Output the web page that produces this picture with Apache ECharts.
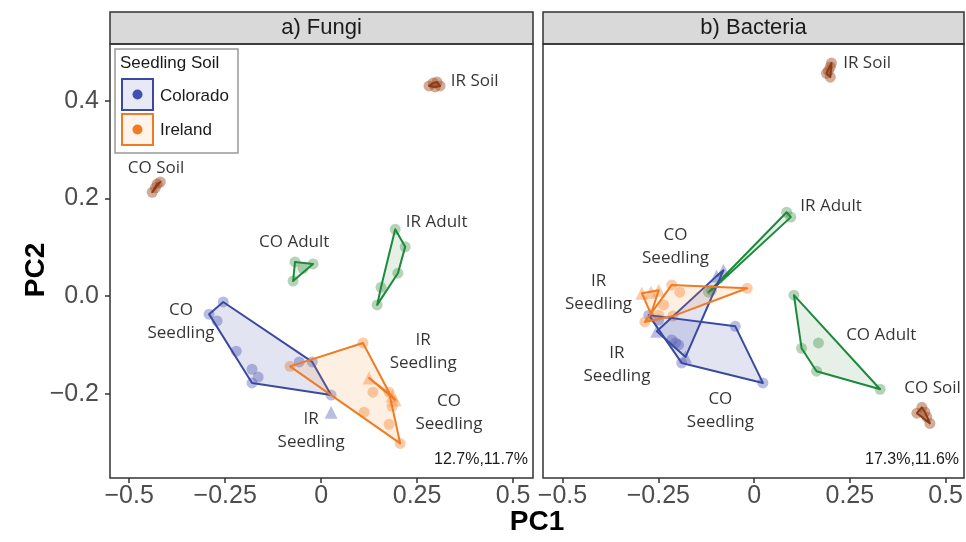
<!DOCTYPE html>
<html>
<head>
<meta charset="utf-8">
<script src="https://cdn.jsdelivr.net/npm/echarts@6/dist/echarts.min.js"></script>
<style>
  html, body { margin: 0; padding: 0; background: #fff; }
  #chart-container { width: 966px; height: 542px; }
</style>
</head>
<body>
<div id="chart-container"></div>
<script>
// ---- data: PC1 / PC2 scores ----
var xTicks = [-0.5, -0.25, 0, 0.25, 0.5];
var yTicks = [-0.2, 0, 0.2, 0.4];
var panelTitles = ['a) Fungi', 'b) Bacteria'];
var varExplained = ['12.7%,11.7%', '17.3%,11.6%'];

// fungi
var fungiCOSoil = [[-0.440, 0.213], [-0.432, 0.222], [-0.427, 0.230], [-0.419, 0.234]];
var fungiIRSoil = [[0.281, 0.431], [0.292, 0.437], [0.302, 0.439], [0.310, 0.431], [0.297, 0.429]];
var fungiCOAdult = [[-0.068, 0.070], [-0.021, 0.066], [-0.073, 0.031], [-0.047, 0.057]];
var fungiIRAdult = [[0.193, 0.137], [0.219, 0.101], [0.200, 0.047], [0.156, 0.018], [0.146, -0.018]];
var fungiCOSeedCircle = [[-0.255, -0.012], [-0.292, -0.037], [-0.271, -0.051], [-0.221, -0.113], [-0.180, -0.150],
  [-0.164, -0.166], [-0.180, -0.178], [-0.057, -0.135], [-0.023, -0.135], [0.026, -0.203]];
var fungiCOSeedTri = [[0.026, -0.238]];
var fungiIRSeedCircle = [[-0.081, -0.144], [0.109, -0.096], [0.135, -0.197], [0.177, -0.197], [0.185, -0.226],
  [0.112, -0.238], [0.177, -0.263], [0.206, -0.302]];
var fungiIRSeedTri = [[0.125, -0.168], [0.193, -0.213], [0.185, -0.205]];

// bacteria
var bactCOSoil = [[0.438, -0.228], [0.425, -0.240], [0.459, -0.261], [0.446, -0.238], [0.451, -0.248]];
var bactIRSoil = [[0.202, 0.478], [0.199, 0.470], [0.189, 0.457], [0.199, 0.449], [0.194, 0.462]];
var bactCOAdult = [[0.104, 0.002], [0.124, -0.107], [0.168, -0.096], [0.163, -0.154], [0.329, -0.191]];
var bactIRAdult = [[0.085, 0.172], [0.096, 0.162], [-0.119, 0.008], [-0.111, 0.012]];
var bactCOSeedCircle = [[-0.275, -0.039], [-0.049, -0.062], [0.023, -0.178], [-0.189, -0.137], [-0.205, -0.096],
  [-0.215, -0.090], [-0.197, -0.100], [-0.249, -0.049]];
var bactCOSeedTri = [[-0.080, 0.053], [-0.098, 0.041], [-0.254, -0.072], [-0.179, -0.125]];
var bactIRSeedCircle = [[-0.215, 0.023], [-0.018, 0.016], [-0.285, -0.053], [-0.249, -0.039], [-0.212, -0.041],
  [-0.194, 0.008], [-0.236, -0.018]];
var bactIRSeedTri = [[-0.293, 0.006], [-0.269, 0.008], [-0.249, 0.012], [-0.269, -0.037]];

// text annotations (label centre in data units)
var fungiLabels = [
  ['CO Soil', -0.430, 0.263], ['IR Soil', 0.400, 0.441], ['CO Adult', -0.070, 0.111], ['IR Adult', 0.301, 0.152],
  ['CO\nSeedling', -0.365, -0.053], ['IR\nSeedling', 0.266, -0.113], ['CO\nSeedling', 0.333, -0.240],
  ['IR\nSeedling', -0.026, -0.275]
];
var bactLabels = [
  ['IR Soil', 0.295, 0.478], ['IR Adult', 0.201, 0.185], ['CO\nSeedling', -0.205, 0.101],
  ['IR\nSeedling', -0.406, 0.008], ['IR\nSeedling', -0.358, -0.140], ['CO\nSeedling', -0.088, -0.234],
  ['CO Adult', 0.332, -0.080], ['CO Soil', 0.466, -0.189]
];

// ---- styles ----
var kinds = {
  soil:  { line: '#8c3b17', point: 'rgba(160,82,40,0.6)',  fill: 'rgba(160,82,40,0.15)' },
  adult: { line: '#1b8a3b', point: 'rgba(86,156,92,0.55)', fill: 'rgba(60,140,70,0.13)' },
  co:    { line: '#3a4aa0', point: 'rgba(98,104,190,0.55)', fill: 'rgba(60,75,165,0.15)' },
  ir:    { line: '#f07b22', point: 'rgba(245,140,60,0.55)', fill: 'rgba(245,145,65,0.15)' }
};

var panels = [
  [
    [fungiCOSoil, 'soil', 'circle'], [fungiIRSoil, 'soil', 'circle'],
    [fungiCOAdult, 'adult', 'circle'], [fungiIRAdult, 'adult', 'circle'],
    [fungiCOSeedCircle, 'co', 'circle'], [fungiCOSeedTri, 'co', 'triangle'],
    [fungiIRSeedCircle, 'ir', 'circle'], [fungiIRSeedTri, 'ir', 'triangle']
  ],
  [
    [bactCOSoil, 'soil', 'circle'], [bactIRSoil, 'soil', 'circle'],
    [bactCOAdult, 'adult', 'circle'], [bactIRAdult, 'adult', 'circle'],
    [bactCOSeedCircle, 'co', 'circle'], [bactCOSeedTri, 'co', 'triangle'],
    [bactIRSeedCircle, 'ir', 'circle'], [bactIRSeedTri, 'ir', 'triangle']
  ]
];
var panelLabels = [fungiLabels, bactLabels];

function convexHull(points) {
  var p = points.slice().sort(function (a, b) { return a[0] - b[0] || a[1] - b[1]; });
  if (p.length < 3) return p;
  function cross(o, a, b) { return (a[0] - o[0]) * (b[1] - o[1]) - (a[1] - o[1]) * (b[0] - o[0]); }
  var lower = [], upper = [];
  for (var i = 0; i < p.length; i++) {
    while (lower.length >= 2 && cross(lower[lower.length - 2], lower[lower.length - 1], p[i]) <= 0) lower.pop();
    lower.push(p[i]);
  }
  for (var j = p.length - 1; j >= 0; j--) {
    while (upper.length >= 2 && cross(upper[upper.length - 2], upper[upper.length - 1], p[j]) <= 0) upper.pop();
    upper.push(p[j]);
  }
  upper.pop(); lower.pop();
  return lower.concat(upper);
}

function fmtX(v) { return v < 0 ? '\u2212' + Math.abs(v) : String(v); }
function fmtY(v) { return (v < 0 ? '\u2212' : '') + Math.abs(v).toFixed(1); }

var grids = [
  { left: 110, top: 44, width: 423, height: 434 },
  { left: 543, top: 44, width: 421, height: 434 }
];
var xRanges = [[-0.55, 0.552], [-0.551, 0.540]];
var yRange = [-0.373, 0.517];

var tickFont = { color: '#4d4d4d', fontSize: 25, fontFamily: 'Liberation Sans' };

var xAxes = [], yAxes = [], series = [];
grids.forEach(function (g, gi) {
  xAxes.push({
    type: 'value', gridIndex: gi, min: xRanges[gi][0], max: xRanges[gi][1],
    splitLine: { show: false }, axisLine: { show: false, onZero: false },
    axisTick: { show: true, length: 5, customValues: xTicks, lineStyle: { color: '#333', width: 1.5 } },
    axisLabel: Object.assign({ show: true, margin: 6, customValues: xTicks, formatter: fmtX }, tickFont)
  });
  yAxes.push({
    type: 'value', gridIndex: gi, min: yRange[0], max: yRange[1],
    splitLine: { show: false }, axisLine: { show: false, onZero: false },
    axisTick: { show: gi === 0, length: 5, customValues: yTicks, lineStyle: { color: '#333', width: 1.5 } },
    axisLabel: Object.assign({ show: gi === 0, margin: 11, customValues: yTicks, formatter: fmtY }, tickFont)
  });

  panels[gi].forEach(function (grp) {
    var pts = grp[0], st = kinds[grp[1]];
    series.push({
      type: 'scatter', xAxisIndex: gi, yAxisIndex: gi, silent: true, z: 2,
      symbol: grp[2], symbolSize: grp[2] === 'triangle' ? 13 : 11,
      itemStyle: { color: st.point },
      data: pts
    });
    var hull = convexHull(pts);
    if (hull.length >= 2) {
      series.push({
        type: 'custom', xAxisIndex: gi, yAxisIndex: gi, silent: true, z: 3,
        data: hull,
        renderItem: function (params, api) {
          if (params.dataIndex !== 0) return;
          var poly = hull.map(function (d) { return api.coord(d); });
          return {
            type: 'polygon', shape: { points: poly },
            style: { fill: st.fill, stroke: st.line, lineWidth: 2, lineJoin: 'round' }
          };
        }
      });
    }
  });

  series.push({
    type: 'scatter', xAxisIndex: gi, yAxisIndex: gi, silent: true, z: 5,
    symbolSize: 0,
    data: panelLabels[gi].map(function (l) { return { name: l[0], value: [l[1], l[2]] }; }),
    label: {
      show: true, position: 'inside', formatter: '{b}', color: '#000',
      fontSize: 17, fontFamily: 'Open Sans', lineHeight: 23
    }
  });
});

var graphics = [];
grids.forEach(function (g, gi) {
  graphics.push({
    type: 'rect', z: 10, silent: true,
    shape: { x: g.left, y: 12, width: g.width, height: 32 },
    style: { fill: '#d9d9d9', stroke: '#333', lineWidth: 1.5 }
  });
  graphics.push({
    type: 'text', z: 11, silent: true, x: g.left + g.width / 2, y: 28,
    style: { text: panelTitles[gi], font: '22px "Liberation Sans"', fill: '#1a1a1a', align: 'center', verticalAlign: 'middle' }
  });
  graphics.push({
    type: 'rect', z: 10, silent: true,
    shape: { x: g.left, y: g.top, width: g.width, height: g.height },
    style: { fill: 'none', stroke: '#333', lineWidth: 1.5 }
  });
  graphics.push({
    type: 'text', z: 11, silent: true, x: g.left + g.width - 5, y: g.top + g.height - 18,
    style: { text: varExplained[gi], font: '16px "Liberation Sans"', fill: '#1a1a1a', align: 'right', verticalAlign: 'middle' }
  });
});

// legend
graphics.push(
  { type: 'rect', z: 12, shape: { x: 115, y: 49, width: 123, height: 104 }, style: { fill: '#fff', stroke: '#999', lineWidth: 1.5 } },
  { type: 'text', z: 13, x: 120, y: 63, style: { text: 'Seedling Soil', font: '17px "Liberation Sans"', fill: '#1a1a1a', verticalAlign: 'middle' } },
  { type: 'rect', z: 13, shape: { x: 122, y: 79, width: 31, height: 31 }, style: { fill: 'rgba(60,75,165,0.12)', stroke: kinds.co.line, lineWidth: 2 } },
  { type: 'circle', z: 14, shape: { cx: 137.5, cy: 94.5, r: 5 }, style: { fill: '#3f51b5' } },
  { type: 'text', z: 13, x: 160, y: 96, style: { text: 'Colorado', font: '17px "Liberation Sans"', fill: '#1a1a1a', verticalAlign: 'middle' } },
  { type: 'rect', z: 13, shape: { x: 122, y: 114, width: 31, height: 31 }, style: { fill: 'rgba(245,145,65,0.1)', stroke: kinds.ir.line, lineWidth: 2 } },
  { type: 'circle', z: 14, shape: { cx: 137.5, cy: 129.5, r: 5 }, style: { fill: '#f07b22' } },
  { type: 'text', z: 13, x: 160, y: 130, style: { text: 'Ireland', font: '17px "Liberation Sans"', fill: '#1a1a1a', verticalAlign: 'middle' } },
  // axis titles
  { type: 'text', z: 13, x: 537, y: 522, style: { text: 'PC1', font: 'bold 28px "Liberation Sans"', fill: '#000', align: 'center', verticalAlign: 'middle' } },
  { type: 'text', z: 13, x: 36, y: 270, rotation: Math.PI / 2, style: { text: 'PC2', font: 'bold 28px "Liberation Sans"', fill: '#000', align: 'center', verticalAlign: 'middle' } }
);

var dom = document.getElementById('chart-container');
var myChart = echarts.init(dom, null, { renderer: 'canvas' });
var option = {
  animation: false,
  backgroundColor: '#fff',
  grid: grids,
  xAxis: xAxes,
  yAxis: yAxes,
  series: series,
  graphic: graphics
};
myChart.setOption(option);
window.addEventListener('resize', myChart.resize);
</script>
</body>
</html>
